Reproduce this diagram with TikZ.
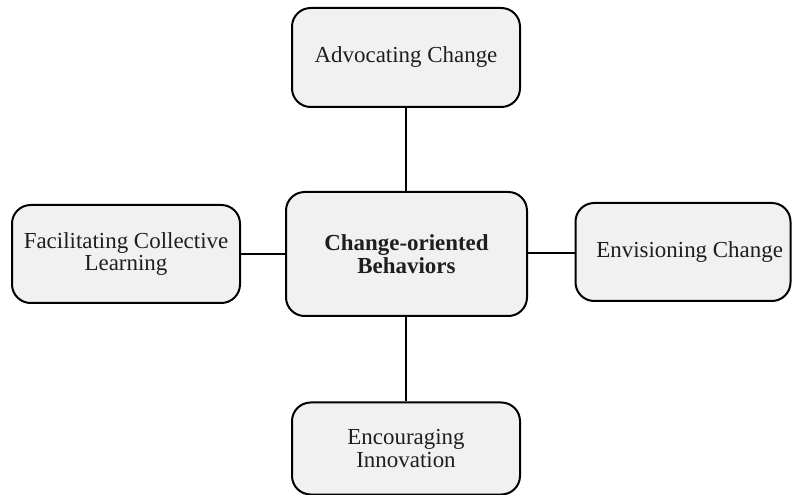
\documentclass[tikz,border=0pt]{standalone}
\usepackage{fontspec}
\setmainfont{Liberation Serif}
\definecolor{boxfill}{HTML}{F1F1F1}
\definecolor{ink}{HTML}{1E1E1E}
\begin{document}
\begin{tikzpicture}[x=0.75pt,y=-0.75pt,
  card/.style={draw=black, fill=boxfill, line width=1.5pt, rounded corners=14pt,
    align=center, text=ink, inner sep=0pt,
    font=\fontsize{17.2pt}{16.6pt}\selectfont},
  link/.style={draw=black, line width=1.5pt}]
\useasboundingbox (0,0) rectangle (793,495);

% central behaviour category
\node[card, minimum width=180.75pt, minimum height=93pt, font=\fontsize{17.2pt}{16.8pt}\selectfont\bfseries]
  (core) at (406.5,254) {Change-oriented\\Behaviors};

% the four surrounding behaviours
\node[card, minimum width=171pt, minimum height=74.25pt] (adv) at (406,57.5) {Advocating Change};
\node[card, minimum width=171pt, minimum height=73.5pt] (fac) at (126,254) {Facilitating Collective\\Learning};
\node[card, minimum width=161.25pt, minimum height=73.5pt] (env) at (683,252) {\hspace*{10pt}Envisioning Change};
\node[card, minimum width=171pt, minimum height=69pt] (enc) at (406,448.5) {Encouraging\\Innovation};

% connectors
\draw[link] (adv.south) -- (adv.south |- core.north);
\draw[link] (core.south -| enc.north) -- (enc.north);
\draw[link] (fac.east) -- (fac.east -| core.west);
\draw[link] (core.east |- 0,253) -- (env.west |- 0,253);
\end{tikzpicture}
\end{document}
